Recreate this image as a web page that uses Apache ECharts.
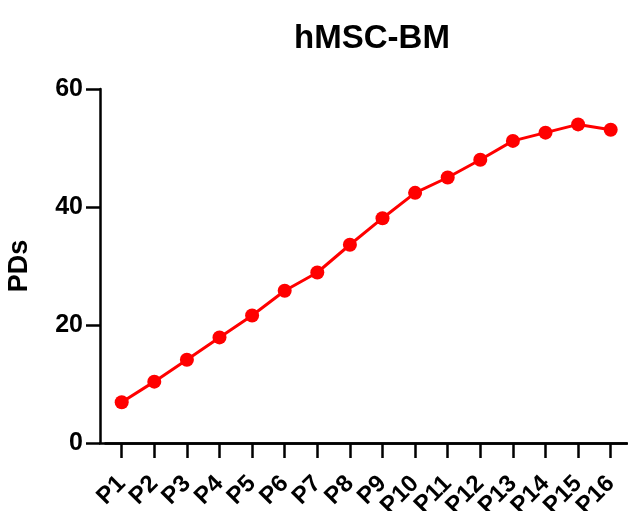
<!DOCTYPE html>
<html><head><meta charset="utf-8">
<script src="https://cdn.jsdelivr.net/npm/echarts@6/dist/echarts.min.js"></script>
<style>html,body{margin:0;padding:0;background:#fff}#c{width:628px;height:511px}</style>
</head><body><div id="c"></div>
<script>
var categories = ['P1','P2','P3','P4','P5','P6','P7','P8','P9','P10','P11','P12','P13','P14','P15','P16'];
var pds = [6.9, 10.4, 14.1, 17.9, 21.6, 25.8, 28.9, 33.6, 38.1, 42.4, 45.0, 48.0, 51.2, 52.6, 54.0, 53.1];
var yTicks = [0, 20, 40, 60];

var chart = echarts.init(document.getElementById('c'), null, {renderer: 'canvas'});
var F = 'Liberation Sans, Arial, sans-serif';
chart.setOption({
  animation: false,
  backgroundColor: '#fff',
  title: {
    text: 'hMSC-BM', left: 367, top: 17, textAlign: 'center',
    textStyle: {fontFamily: F, fontWeight: 'bold', fontSize: 33, color: '#000'}
  },
  grid: [
    {left: 105.4, right: 1, top: 89, bottom: 68, containLabel: false, outerBoundsMode: 'none'},
    {left: 100, right: 1, top: 89, bottom: 68, containLabel: false, outerBoundsMode: 'none'}
  ],
  xAxis: [{
    type: 'category', gridIndex: 0, data: categories, boundaryGap: true,
    axisLine: {show: true, lineStyle: {color: '#000', width: 2.5}},
    axisTick: {show: true, alignWithLabel: true, length: 15, lineStyle: {color: '#000', width: 2.5}},
    axisLabel: {rotate: 45, interval: 0, margin: 37, fontFamily: F, fontWeight: 'bold', fontSize: 24, color: '#000'}
  }, {
    type: 'value', gridIndex: 1, min: 0, max: 1,
    axisLine: {show: true, onZero: false, lineStyle: {color: '#000', width: 2.5}},
    axisTick: {show: false}, axisLabel: {show: false}, splitLine: {show: false}
  }],
  yAxis: [{
    type: 'value', gridIndex: 0, min: yTicks[0], max: yTicks[yTicks.length - 1], interval: 20,
    offset: 5.4,
    name: 'PDs', nameLocation: 'middle', nameGap: 67, nameRotate: 90,
    nameTextStyle: {fontFamily: F, fontWeight: 'bold', fontSize: 27, color: '#000'},
    axisLine: {show: true, lineStyle: {color: '#000', width: 2.5}},
    axisTick: {show: true, length: 14, lineStyle: {color: '#000', width: 2.5}},
    axisLabel: {margin: 17, fontFamily: F, fontWeight: 'bold', fontSize: 25, color: '#000'},
    splitLine: {show: false}
  }, {
    type: 'value', gridIndex: 1, min: 0, max: 1, show: false
  }],
  series: [{
    type: 'line', xAxisIndex: 0, yAxisIndex: 0, data: pds,
    symbol: 'circle', symbolSize: 14,
    lineStyle: {color: '#ff0000', width: 3},
    itemStyle: {color: '#ff0000'}
  }]
});
</script></body></html>
